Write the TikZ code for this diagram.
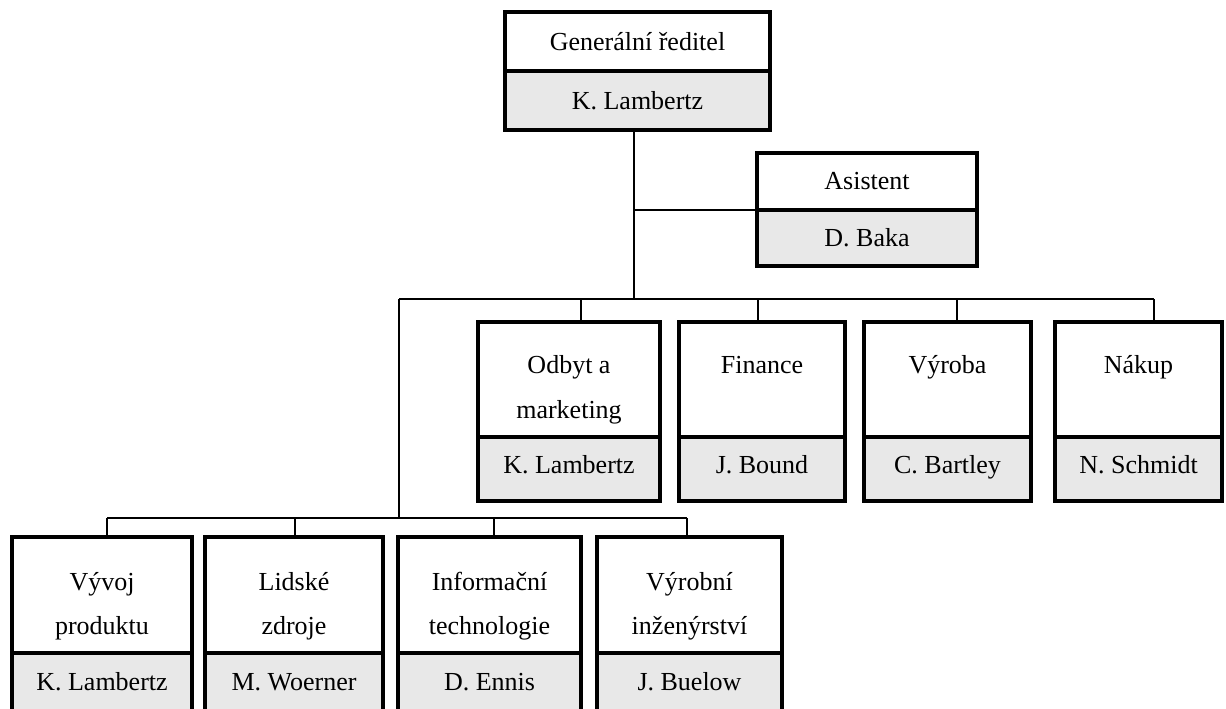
\documentclass[tikz,border=0pt]{standalone}
\usepackage{fontspec}
\setmainfont{Liberation Serif}
\usetikzlibrary{calc}
\definecolor{namegray}{RGB}{232,232,232}
\tikzset{
  cell/.style={draw, line width=3.2pt, inner sep=0pt, outer sep=0pt, anchor=north west},
  titlecell/.style={cell, fill=white},
  namecell/.style={cell, fill=namegray},
  link/.style={line width=1.3pt},
  lbl/.style={font=\fontsize{26}{26}\selectfont, inner sep=0pt, anchor=base},
}
% unit box: #1 id, #2 left, #3 right, #4 top, #5 divider, #6 bottom
\newcommand{\orgunit}[6]{%
  \node[titlecell, minimum width=\the\dimexpr #3pt-#2pt\relax,
        minimum height=\the\dimexpr #5pt-#4pt\relax] (#1) at (#2,#4) {};
  \node[namecell, minimum width=\the\dimexpr #3pt-#2pt\relax,
        minimum height=\the\dimexpr #6pt-#5pt\relax] (#1-n) at (#2,#5) {};
}
\begin{document}
\begin{tikzpicture}[x=1pt, y=-1pt]
\useasboundingbox (0,0) rectangle (1226,709);
\clip (0,0) rectangle (1226,709);

% junction points of the connector tree
\coordinate (trunk) at (634,299);
\coordinate (split) at (399,299);
\coordinate (lower) at (399,518);
\coordinate (d-odbyt) at (581,299);
\coordinate (d-finance) at (758,299);
\coordinate (d-vyroba) at (957,299);
\coordinate (d-nakup) at (1154,299);
\coordinate (d-vyvoj) at (107,518);
\coordinate (d-lidske) at (295,518);
\coordinate (d-inform) at (494,518);
\coordinate (d-vyrobni) at (687,518);

% boxes
\orgunit{gr}{505}{770}{12}{71}{130}
\orgunit{asst}{757}{977}{153}{210}{266}
\orgunit{odbyt}{478}{660}{322}{437}{501}
\orgunit{finance}{679}{845}{322}{437}{501}
\orgunit{vyroba}{864}{1031}{322}{437}{501}
\orgunit{nakup}{1055}{1222}{322}{437}{501}
\orgunit{vyvoj}{12}{192}{537}{653}{780}
\orgunit{lidske}{205}{383}{537}{653}{780}
\orgunit{inform}{398}{581}{537}{653}{780}
\orgunit{vyrobni}{597}{782}{537}{653}{780}

% connectors
\draw[link] (gr-n.south -| trunk) -- (trunk);
\draw[link] (asst-n.north west) -- (asst-n.north west -| trunk);
\draw[link] (split) -- (d-nakup);
\draw[link] (split) -- (lower);
\draw[link] (d-vyvoj) -- (d-vyrobni);
\foreach \u in {odbyt, finance, vyroba, nakup, vyvoj, lidske, inform, vyrobni}
  \draw[link] (d-\u) -- (\u.north -| d-\u);

% labels
\node[lbl] (gr-t) at (637.5,51) {Generální ředitel};
\node[lbl] (gr-p) at (637.5,110) {K. Lambertz};
\node[lbl] (asst-t) at (867,189) {Asistent};
\node[lbl] (asst-p) at (867,246) {D. Baka};

\node[lbl] (odbyt-t1) at (569,373) {Odbyt a};
\node[lbl] (odbyt-t2) at (569,418) {marketing};
\node[lbl] (odbyt-p) at (569,473) {K. Lambertz};
\node[lbl] (finance-t) at (762,373) {Finance};
\node[lbl] (finance-p) at (762,473) {J. Bound};
\node[lbl] (vyroba-t) at (947.5,373) {Výroba};
\node[lbl] (vyroba-p) at (947.5,473) {C. Bartley};
\node[lbl] (nakup-t) at (1138.5,373) {Nákup};
\node[lbl] (nakup-p) at (1138.5,473) {N. Schmidt};

\node[lbl] (vyvoj-t1) at (102,590) {Vývoj};
\node[lbl] (vyvoj-t2) at (102,634) {produktu};
\node[lbl] (vyvoj-p) at (102,690) {K. Lambertz};
\node[lbl] (lidske-t1) at (294,590) {Lidské};
\node[lbl] (lidske-t2) at (294,634) {zdroje};
\node[lbl] (lidske-p) at (294,690) {M. Woerner};
\node[lbl] (inform-t1) at (489.5,590) {Informační};
\node[lbl] (inform-t2) at (489.5,634) {technologie};
\node[lbl] (inform-p) at (489.5,690) {D. Ennis};
\node[lbl] (vyrobni-t1) at (689.5,590) {Výrobní};
\node[lbl] (vyrobni-t2) at (689.5,634) {inženýrství};
\node[lbl] (vyrobni-p) at (689.5,690) {J. Buelow};
\end{tikzpicture}
\end{document}
